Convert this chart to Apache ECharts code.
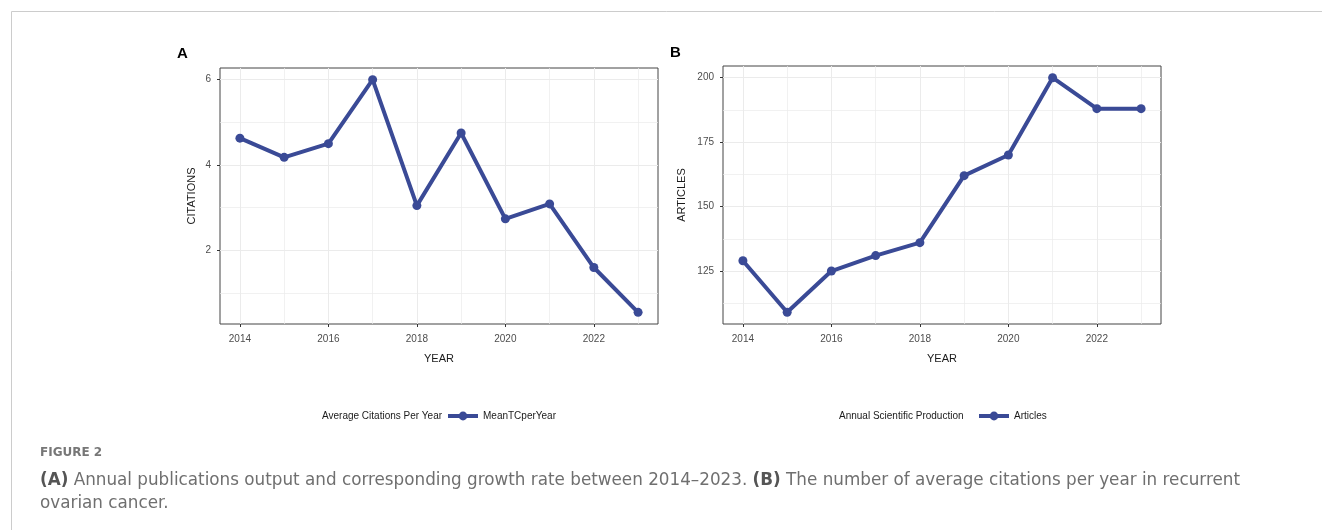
<!DOCTYPE html>
<html>
<head>
<meta charset="utf-8">
<script src="https://cdn.jsdelivr.net/npm/echarts@6/dist/echarts.min.js"></script>
<style>
  html, body { margin: 0; padding: 0; background: #ffffff; }
  #chart { width: 1322px; height: 530px; }
</style>
</head>
<body>
<div id="chart"></div>
<script>
// Publication years shared by both panels
const years = [2014, 2015, 2016, 2017, 2018, 2019, 2020, 2021, 2022, 2023];
// Panel A: average citations per year (MeanTCperYear)
const meanCitations = [4.63, 4.18, 4.50, 6.00, 3.05, 4.75, 2.74, 3.09, 1.60, 0.55];
// Panel B: annual scientific production (articles)
const articleCounts = [129, 109, 125, 131, 136, 162, 170, 200, 188, 188];

// Tick labels and gridline positions
const yearTicks = [2014, 2016, 2018, 2020, 2022];
const yearMinor = [2015, 2017, 2019, 2021, 2023];
const citationTicks = [2, 4, 6];
const citationMinor = [1, 3, 5];
const articleTicks = [125, 150, 175, 200];
const articleMinor = [112.5, 137.5, 162.5, 187.5];

const FONT = "'Liberation Sans', Arial, sans-serif";
const CAPTION_FONT = "'DejaVu Sans', sans-serif";
const LINE_COLOR = '#3A4A96';
const GRID_COLOR = '#EBEBEB';

// 5% padding on each side of the data range
function padded(values) {
  const lo = Math.min(...values), hi = Math.max(...values);
  const pad = (hi - lo) * 0.05;
  return { min: lo - pad, max: hi + pad };
}
const xr = padded(years);
const ya = padded(meanCitations);
const yb = padded(articleCounts);

function mainX(gridIndex) {
  return {
    type: 'value', gridIndex, min: xr.min, max: xr.max,
    name: 'YEAR', nameLocation: 'middle', nameGap: 29,
    nameTextStyle: { fontFamily: FONT, fontSize: 11, color: '#1a1a1a' },
    axisLine: { show: false },
    axisTick: { show: true, length: 3, customValues: yearTicks, lineStyle: { color: '#333', width: 1 } },
    axisLabel: {
      customValues: yearTicks, margin: 10, fontFamily: FONT, fontSize: 10, color: '#4d4d4d',
      formatter: v => String(v)
    },
    splitLine: { show: true, lineStyle: { color: GRID_COLOR, width: 1 } }
  };
}
function minorX(gridIndex) {
  return {
    type: 'value', gridIndex, min: xr.min, max: xr.max, position: 'top',
    axisLine: { show: false },
    axisTick: { show: false, customValues: yearMinor },
    axisLabel: { show: false, customValues: yearMinor },
    splitLine: { show: true, lineStyle: { color: GRID_COLOR, width: 0.7 } }
  };
}
function mainY(gridIndex, range, ticks, name, gap) {
  return {
    type: 'value', gridIndex, min: range.min, max: range.max,
    name, nameLocation: 'middle', nameGap: gap, nameRotate: 90,
    nameTextStyle: { fontFamily: FONT, fontSize: 11, color: '#1a1a1a' },
    axisLine: { show: false },
    axisTick: { show: true, length: 3, customValues: ticks, lineStyle: { color: '#333', width: 1 } },
    axisLabel: {
      customValues: ticks, margin: 9, fontFamily: FONT, fontSize: 10, color: '#4d4d4d',
      formatter: v => String(v)
    },
    splitLine: { show: true, lineStyle: { color: GRID_COLOR, width: 1 } }
  };
}
function minorY(gridIndex, range, ticks) {
  return {
    type: 'value', gridIndex, min: range.min, max: range.max, position: 'right',
    axisLine: { show: false },
    axisTick: { show: false, customValues: ticks },
    axisLabel: { show: false, customValues: ticks },
    splitLine: { show: true, lineStyle: { color: GRID_COLOR, width: 0.7 } }
  };
}

function lineSeries(name, values, xi, yi) {
  return {
    type: 'line', name, xAxisIndex: xi, yAxisIndex: yi,
    data: years.map((y, i) => [y, values[i]]),
    symbol: 'circle', symbolSize: 9,
    lineStyle: { color: LINE_COLOR, width: 4 },
    itemStyle: { color: LINE_COLOR },
    z: 5
  };
}

function legendFor(name, left) {
  return {
    data: [name], left, top: 411, padding: 0,
    itemWidth: 30, itemHeight: 11,
    lineStyle: { width: 4, color: LINE_COLOR },
    itemStyle: { color: LINE_COLOR },
    textStyle: { fontFamily: FONT, fontSize: 10, color: '#1a1a1a' }
  };
}

const chart = echarts.init(document.getElementById('chart'), null, { renderer: 'canvas' });
chart.setOption({
  animation: false,
  backgroundColor: '#ffffff',
  textStyle: { fontFamily: FONT },
  grid: [
    { left: 220, top: 68, width: 438, height: 256, show: true, borderColor: '#444', borderWidth: 1, backgroundColor: 'transparent' },
    { left: 723, top: 66, width: 438, height: 258, show: true, borderColor: '#444', borderWidth: 1, backgroundColor: 'transparent' }
  ],
  xAxis: [mainX(0), minorX(0), mainX(1), minorX(1)],
  yAxis: [
    mainY(0, ya, citationTicks, 'CITATIONS', 23),
    minorY(0, ya, citationMinor),
    mainY(1, yb, articleTicks, 'ARTICLES', 36),
    minorY(1, yb, articleMinor)
  ],
  legend: [legendFor('MeanTCperYear', 446), legendFor('Articles', 977)],
  series: [
    lineSeries('MeanTCperYear', meanCitations, 0, 0),
    lineSeries('Articles', articleCounts, 2, 2)
  ],
  graphic: [
    // page frame
    { type: 'line', shape: { x1: 11.5, y1: 11.5, x2: 1322, y2: 11.5 }, style: { stroke: '#cccccc', lineWidth: 1 }, silent: true },
    { type: 'line', shape: { x1: 11.5, y1: 11.5, x2: 11.5, y2: 530 }, style: { stroke: '#cccccc', lineWidth: 1 }, silent: true },
    // panel tags
    { type: 'text', left: 177, top: 46, style: { text: 'A', fontFamily: FONT, fontSize: 15, fontWeight: 'bold', fill: '#000' } },
    { type: 'text', left: 670, top: 45, style: { text: 'B', fontFamily: FONT, fontSize: 15, fontWeight: 'bold', fill: '#000' } },
    // legend titles
    { type: 'text', left: 322, top: 411, style: { text: 'Average Citations Per Year', fontFamily: FONT, fontSize: 10, fill: '#1a1a1a' } },
    { type: 'text', left: 839, top: 411, style: { text: 'Annual Scientific Production', fontFamily: FONT, fontSize: 10, fill: '#1a1a1a' } },
    // figure caption
    { type: 'text', left: 40, top: 447, style: { text: 'FIGURE 2', fontFamily: CAPTION_FONT, fontSize: 12, fontWeight: 'bold', fill: '#777777' } },
    {
      type: 'text', left: 40, top: 469,
      style: {
        text: '{b|(A)} Annual publications output and corresponding growth rate between 2014\u20132023. {b|(B)} The number of average citations per year in recurrent\novarian cancer.',
        fontFamily: CAPTION_FONT, fontSize: 16.8, lineHeight: 23, fill: '#6f6f6f',
        rich: { b: { fontFamily: CAPTION_FONT, fontSize: 16.8, fontWeight: 'bold', fill: '#555555', lineHeight: 23 } }
      }
    }
  ]
});
</script>
</body>
</html>
